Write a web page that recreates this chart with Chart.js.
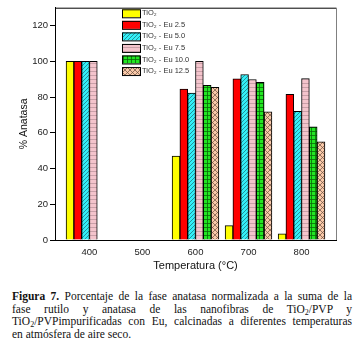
<!DOCTYPE html>
<html lang="es">
<head>
    <meta charset="UTF-8">
    <title>Fase anatasa</title>
    <style>
        body { margin: 0; background: #fff; }
        #chartContainer {
            position: absolute;
            left: 0;
            top: 0;
            width: 360px;
            height: 275px;
        }
        #caption {
            position: absolute;
            left: 12px;
            top: 290px;
            width: 340px;
            font-family: "Liberation Serif", "Times New Roman", serif;
            font-size: 11.5px;
            line-height: 12.5px;
            color: #111;
        }
        #caption div { text-align: justify; text-align-last: justify; }
        #caption div.last { text-align-last: left; }
        #caption sub { font-size: 8px; line-height: 0; vertical-align: -2px; }
    </style>
</head>
<body>
    <div id="chartContainer">
        <canvas id="anatasaChart"></canvas>
    </div>
    <div id="caption">
        <div><b>Figura 7.</b> Porcentaje de la fase anatasa normalizada a la suma de la</div>
        <div>fase rutilo y anatasa de las nanofibras de TiO<sub>2</sub>/PVP y</div>
        <div>TiO<sub>2</sub>/PVPimpurificadas con Eu, calcinadas a diferentes temperaturas</div>
        <div class="last">en atmósfera de aire seco.</div>
    </div>

    <script src="https://cdn.jsdelivr.net/npm/chart.js"></script>
    <script>
        // Data
        const temperatures = [400, 500, 600, 700, 800];
        const seriesNames = ['TiO\u2082', 'TiO\u2082 - Eu 2.5', 'TiO\u2082 - Eu 5.0', 'TiO\u2082 - Eu 7.5', 'TiO\u2082 - Eu 10.0', 'TiO\u2082 - Eu 12.5'];
        const tio2 = [100, null, 47, 8, 3.5];
        const eu25 = [100, null, 84.4, 90.2, 81.5];
        const eu50 = [100, null, 82.2, 92.6, 72];
        const eu75 = [100, null, 100, 89.8, 90.4];
        const eu100 = [null, null, 86.5, 88.3, 63.3];
        const eu125 = [null, null, 85.5, 71.7, 55];
        const yTicks = [0, 20, 40, 60, 80, 100, 120];

        // fill patterns for the hatched bars
        function makePattern(bg, draw) {
            const c = document.createElement('canvas');
            c.width = 4; c.height = 4;
            const g = c.getContext('2d');
            g.fillStyle = bg;
            g.fillRect(0, 0, 4, 4);
            draw(g);
            return g.createPattern(c, 'repeat');
        }
        const cyanPattern = makePattern('#33f0f8', g => {
            g.strokeStyle = '#207880';
            g.lineWidth = 0.8;
            g.beginPath();
            g.moveTo(0, 4); g.lineTo(4, 0);
            g.moveTo(-1, 1); g.lineTo(1, -1);
            g.moveTo(3, 5); g.lineTo(5, 3);
            g.stroke();
        });
        const pinkPattern = makePattern('#f4c4cc', g => {
            g.fillStyle = '#c9a0a8';
            g.fillRect(0, 3, 4, 1);
        });
        const greenPattern = makePattern('#22e622', g => {
            g.fillStyle = '#0a6a0a';
            g.fillRect(0, 3, 4, 0.8);
            g.fillRect(3, 0, 0.8, 4);
        });
        const tanPattern = (() => {
            const c = document.createElement('canvas');
            c.width = 5; c.height = 5;
            const g = c.getContext('2d');
            g.fillStyle = '#f8c8a8';
            g.fillRect(0, 0, 5, 5);
            g.strokeStyle = '#6a5040';
            g.lineWidth = 0.7;
            g.beginPath();
            g.moveTo(0, 0); g.lineTo(5, 5);
            g.moveTo(5, 0); g.lineTo(0, 5);
            g.stroke();
            return g.createPattern(c, 'repeat');
        })();

        const fills = ['#ffff00', '#ff0000', cyanPattern, pinkPattern, greenPattern, tanPattern];
        const values = [tio2, eu25, eu50, eu75, eu100, eu125];

        const datasets = values.map((vals, i) => ({
            label: seriesNames[i],
            data: vals.map((v, j) => ({ x: temperatures[j], y: v })),
            backgroundColor: fills[i],
            borderColor: '#000',
            borderWidth: 1,
            borderSkipped: 'bottom',
            barThickness: 7.8
        }));

        // frame on top/right and legend inside the plot
        const framePlugin = {
            id: 'frame',
            afterDraw(chart) {
                const { ctx, chartArea: a } = chart;
                ctx.save();
                ctx.lineWidth = 1;
                ctx.strokeStyle = '#000';
                ctx.beginPath();
                ctx.moveTo(a.left, a.top + 0.5);
                ctx.lineTo(a.right, a.top + 0.5);
                ctx.stroke();
                ctx.strokeStyle = '#808080';
                ctx.beginPath();
                ctx.moveTo(a.right + 0.5, a.top);
                ctx.lineTo(a.right + 0.5, a.bottom);
                ctx.stroke();

                // legend
                ctx.font = '7.5px "Liberation Sans", Arial, sans-serif';
                ctx.textBaseline = 'middle';
                seriesNames.forEach((name, i) => {
                    const y = 13.3 + i * 11.55;
                    ctx.fillStyle = fills[i];
                    ctx.fillRect(122, y - 4, 18, 8);
                    ctx.strokeStyle = '#000';
                    ctx.strokeRect(122.5, y - 3.5, 18, 8);
                    ctx.fillStyle = '#333';
                    ctx.fillText(name, 142, y);
                });
                ctx.restore();
            }
        };

        const ctx = document.getElementById('anatasaChart').getContext('2d');
        const chart = new Chart(ctx, {
            type: 'bar',
            data: { datasets: datasets },
            options: {
                responsive: true,
                maintainAspectRatio: false,
                animation: false,
                layout: { padding: { top: 5, right: 24, left: 0, bottom: 0 } },
                plugins: {
                    legend: { display: false },
                    tooltip: { enabled: false }
                },
                scales: {
                    x: {
                        type: 'linear',
                        offset: false,
                        min: 335,
                        max: 865,
                        afterBuildTicks: s => { s.ticks = temperatures.map(v => ({ value: v })); },
                        afterFit: s => { s.height = 35; },
                        grid: { display: false },
                        border: { display: true, color: '#000', width: 1 },
                        ticks: {
                            color: '#222',
                            padding: -1,
                            font: { family: '"Liberation Sans", Arial, sans-serif', size: 9.5 }
                        },
                        title: {
                            display: true,
                            text: 'Temperatura (°C)',
                            color: '#111',
                            padding: { top: 0, bottom: 2 },
                            font: { family: '"Liberation Sans", Arial, sans-serif', size: 11 }
                        }
                    },
                    y: {
                        min: 0,
                        max: 130,
                        afterBuildTicks: s => { s.ticks = yTicks.map(v => ({ value: v })); },
                        afterFit: s => { s.width = 55; },
                        grid: { drawOnChartArea: false, drawTicks: true, tickLength: 5, color: '#000' },
                        border: { display: true, color: '#000', width: 1 },
                        ticks: {
                            color: '#222',
                            padding: 2,
                            font: { family: '"Liberation Sans", Arial, sans-serif', size: 9.5 }
                        },
                        title: {
                            display: true,
                            text: '% Anatasa',
                            color: '#111',
                            padding: { top: 18, bottom: 0 },
                            font: { family: '"Liberation Sans", Arial, sans-serif', size: 10.5 }
                        }
                    }
                }
            },
            plugins: [framePlugin]
        });
    </script>
</body>
</html>
